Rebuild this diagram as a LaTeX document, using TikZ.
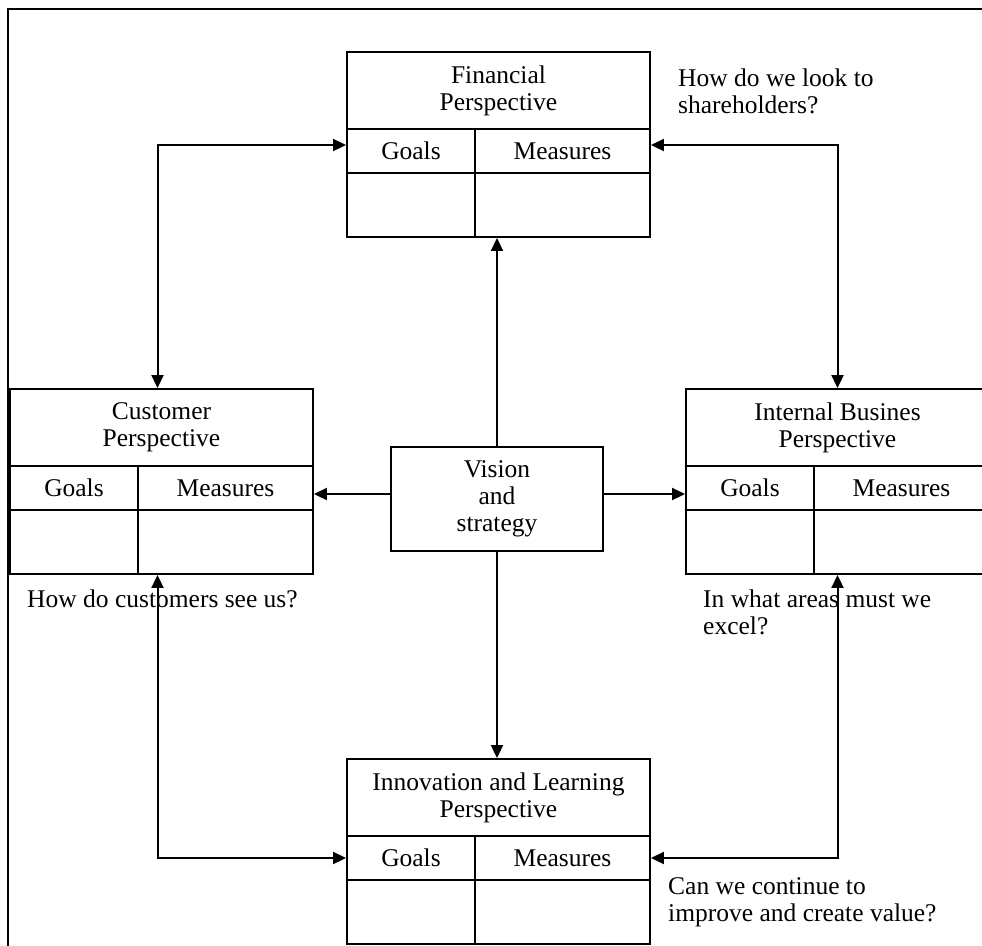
\documentclass[tikz,border=0pt]{standalone}
\usepackage{fontspec}
\setmainfont{Liberation Serif}
\usetikzlibrary{arrows.meta}

\begin{document}
\begin{tikzpicture}[x=1pt,y=-1pt,
	every node/.style={font=\fontsize{25.5}{27}\selectfont},
	cell/.style={draw,line width=1.9pt,inner sep=0pt,align=center},
	question/.style={anchor=west,align=left,inner sep=0pt},
	link/.style={line width=2pt,>={Triangle[length=13pt,width=12pt]}}]
	\clip (0,0) rectangle (982,945);

	% Frame
	\draw[line width=2.8pt] (8,9) rectangle (1100,1100);

	% Perspective boxes: title, Goals/Measures row, empty row
	\foreach \name/\x/\y/\title in {fin/347/52/{Financial\\Perspective},
		cust/10/389/{Customer\\Perspective},
		int/686/389/{Internal Busines\\Perspective},
		inn/347/759/{Innovation and Learning\\Perspective}}
	{
		\node[cell,minimum width=303pt,minimum height=77pt] (\name) at (\x+151.5,\y+38.5) {\title};
		\node[cell,minimum width=128pt,minimum height=44pt] (\name-goals) at (\x+64,\y+99) {Goals};
		\node[cell,minimum width=175pt,minimum height=44pt] (\name-meas) at (\x+215.5,\y+99) {Measures};
		\node[cell,minimum width=128pt,minimum height=64pt] (\name-g) at (\x+64,\y+153) {};
		\node[cell,minimum width=175pt,minimum height=64pt] (\name-m) at (\x+215.5,\y+153) {};
	}

	% Centre
	\node[cell,minimum width=212pt,minimum height=104pt] (vis) at (497,499) {Vision\\and\\strategy};

	% Questions
	\node[question] (q-fin) at (678,91) {How do we look to\\shareholders?};
	\node[question] (q-cust) at (27,599) {How do customers see us?};
	\node[question] (q-int) at (703,612) {In what areas must we\\excel?};
	\node[question] (q-inn) at (668,902) {Can we continue to\\improve and create value?};

	% Links between perspectives
	\coordinate (cust-x) at ([xshift=-4pt]cust.north);
	\coordinate (fin-l) at ([yshift=6pt]fin-goals.west);
	\coordinate (fin-r) at ([yshift=6pt]fin-meas.east);
	\draw[link,<->] (fin-l) -| (cust-x);
	\draw[link,<->] (fin-r) -| (int.north);
	\draw[link,<->] (inn-goals.west) -| (cust-x |- cust-g.south);
	\draw[link,<->] (inn-meas.east) -| (int.north |- int-m.south);

	% Links from vision
	\draw[link,->] (vis.north) -- (vis.north |- fin-m.south);
	\draw[link,->] (vis.south) -- (vis.south |- inn.north);
	\draw[link,->] ([yshift=5pt]vis.west) -- ([yshift=5pt]vis.west -| cust-meas.east);
	\draw[link,->] ([yshift=5pt]vis.east) -- ([yshift=5pt]vis.east -| int-goals.west);
\end{tikzpicture}
\end{document}
